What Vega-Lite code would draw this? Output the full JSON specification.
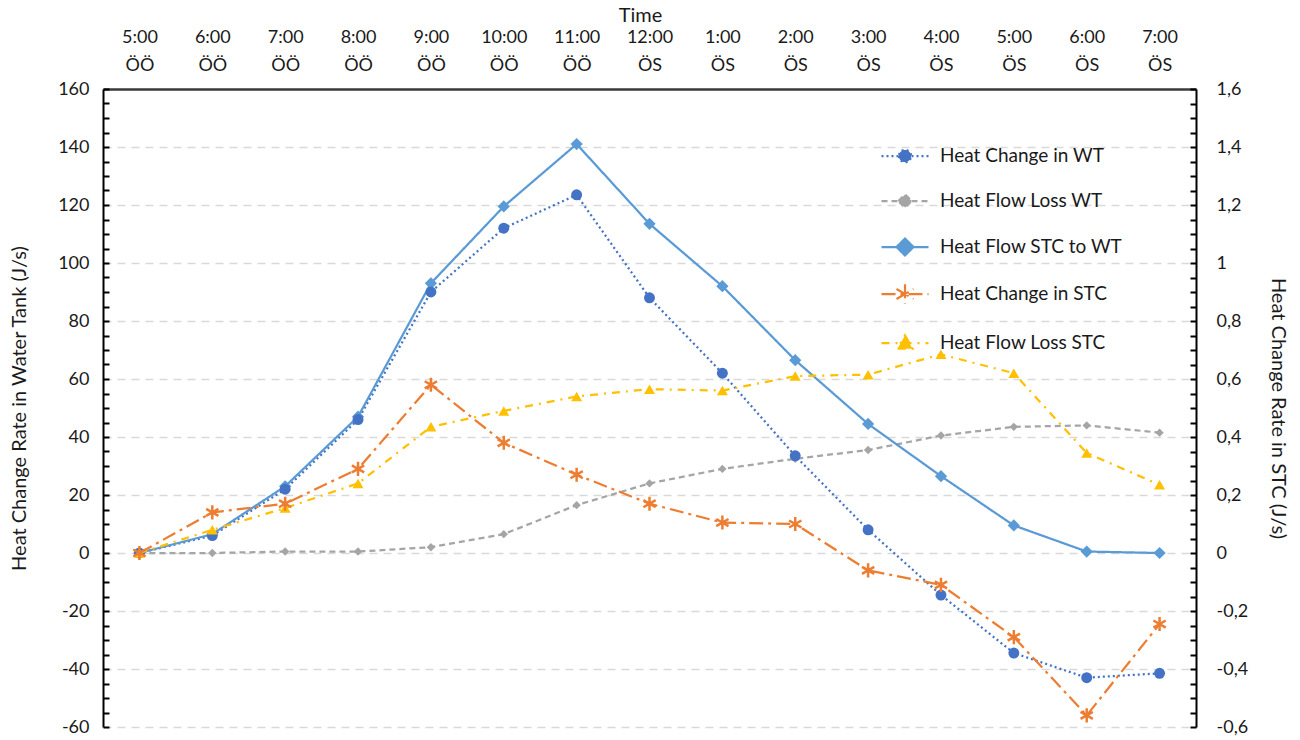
{
  "$schema": "https://vega.github.io/schema/vega-lite/v6.json",
  "width": 1093,
  "height": 638,
  "autosize": "none",
  "padding": {"left": 103, "top": 89, "right": 104, "bottom": 13},
  "background": "white",
  "config": {
    "font": "Lato",
    "view": {"stroke": null},
    "axis": {"labelFont": "Lato", "titleFont": "Lato", "titleFontWeight": "normal", "labelColor": "#1a1a1a", "titleColor": "#1a1a1a", "labelFontSize": 18, "titleFontSize": 18},
    "legend": {"labelFont": "Lato", "labelFontSize": 19, "labelColor": "#1a1a1a", "labelLimit": 0}
  },
  "datasets": {
    "d": [
      {"t": "5:00 ÖÖ", "s": "Heat Change in WT", "v": 0},
      {"t": "6:00 ÖÖ", "s": "Heat Change in WT", "v": 6},
      {"t": "7:00 ÖÖ", "s": "Heat Change in WT", "v": 22},
      {"t": "8:00 ÖÖ", "s": "Heat Change in WT", "v": 46},
      {"t": "9:00 ÖÖ", "s": "Heat Change in WT", "v": 90},
      {"t": "10:00 ÖÖ", "s": "Heat Change in WT", "v": 112},
      {"t": "11:00 ÖÖ", "s": "Heat Change in WT", "v": 123.5},
      {"t": "12:00 ÖS", "s": "Heat Change in WT", "v": 88},
      {"t": "1:00 ÖS", "s": "Heat Change in WT", "v": 62},
      {"t": "2:00 ÖS", "s": "Heat Change in WT", "v": 33.5},
      {"t": "3:00 ÖS", "s": "Heat Change in WT", "v": 8},
      {"t": "4:00 ÖS", "s": "Heat Change in WT", "v": -14.5},
      {"t": "5:00 ÖS", "s": "Heat Change in WT", "v": -34.5},
      {"t": "6:00 ÖS", "s": "Heat Change in WT", "v": -43},
      {"t": "7:00 ÖS", "s": "Heat Change in WT", "v": -41.5},
      {"t": "5:00 ÖÖ", "s": "Heat Flow Loss WT", "v": 0},
      {"t": "6:00 ÖÖ", "s": "Heat Flow Loss WT", "v": 0},
      {"t": "7:00 ÖÖ", "s": "Heat Flow Loss WT", "v": 0.5},
      {"t": "8:00 ÖÖ", "s": "Heat Flow Loss WT", "v": 0.5},
      {"t": "9:00 ÖÖ", "s": "Heat Flow Loss WT", "v": 2},
      {"t": "10:00 ÖÖ", "s": "Heat Flow Loss WT", "v": 6.5},
      {"t": "11:00 ÖÖ", "s": "Heat Flow Loss WT", "v": 16.5},
      {"t": "12:00 ÖS", "s": "Heat Flow Loss WT", "v": 24},
      {"t": "1:00 ÖS", "s": "Heat Flow Loss WT", "v": 29},
      {"t": "2:00 ÖS", "s": "Heat Flow Loss WT", "v": 32.5},
      {"t": "3:00 ÖS", "s": "Heat Flow Loss WT", "v": 35.5},
      {"t": "4:00 ÖS", "s": "Heat Flow Loss WT", "v": 40.5},
      {"t": "5:00 ÖS", "s": "Heat Flow Loss WT", "v": 43.5},
      {"t": "6:00 ÖS", "s": "Heat Flow Loss WT", "v": 44},
      {"t": "7:00 ÖS", "s": "Heat Flow Loss WT", "v": 41.5},
      {"t": "5:00 ÖÖ", "s": "Heat Flow STC to WT", "v": 0},
      {"t": "6:00 ÖÖ", "s": "Heat Flow STC to WT", "v": 6.5},
      {"t": "7:00 ÖÖ", "s": "Heat Flow STC to WT", "v": 23},
      {"t": "8:00 ÖÖ", "s": "Heat Flow STC to WT", "v": 47},
      {"t": "9:00 ÖÖ", "s": "Heat Flow STC to WT", "v": 93},
      {"t": "10:00 ÖÖ", "s": "Heat Flow STC to WT", "v": 119.5},
      {"t": "11:00 ÖÖ", "s": "Heat Flow STC to WT", "v": 141},
      {"t": "12:00 ÖS", "s": "Heat Flow STC to WT", "v": 113.5},
      {"t": "1:00 ÖS", "s": "Heat Flow STC to WT", "v": 92},
      {"t": "2:00 ÖS", "s": "Heat Flow STC to WT", "v": 66.5},
      {"t": "3:00 ÖS", "s": "Heat Flow STC to WT", "v": 44.5},
      {"t": "4:00 ÖS", "s": "Heat Flow STC to WT", "v": 26.5},
      {"t": "5:00 ÖS", "s": "Heat Flow STC to WT", "v": 9.5},
      {"t": "6:00 ÖS", "s": "Heat Flow STC to WT", "v": 0.5},
      {"t": "7:00 ÖS", "s": "Heat Flow STC to WT", "v": 0},
      {"t": "5:00 ÖÖ", "s": "Heat Change in STC", "v": 0},
      {"t": "6:00 ÖÖ", "s": "Heat Change in STC", "v": 0.14},
      {"t": "7:00 ÖÖ", "s": "Heat Change in STC", "v": 0.17},
      {"t": "8:00 ÖÖ", "s": "Heat Change in STC", "v": 0.29},
      {"t": "9:00 ÖÖ", "s": "Heat Change in STC", "v": 0.58},
      {"t": "10:00 ÖÖ", "s": "Heat Change in STC", "v": 0.38},
      {"t": "11:00 ÖÖ", "s": "Heat Change in STC", "v": 0.27},
      {"t": "12:00 ÖS", "s": "Heat Change in STC", "v": 0.17},
      {"t": "1:00 ÖS", "s": "Heat Change in STC", "v": 0.105},
      {"t": "2:00 ÖS", "s": "Heat Change in STC", "v": 0.1},
      {"t": "3:00 ÖS", "s": "Heat Change in STC", "v": -0.06},
      {"t": "4:00 ÖS", "s": "Heat Change in STC", "v": -0.11},
      {"t": "5:00 ÖS", "s": "Heat Change in STC", "v": -0.29},
      {"t": "6:00 ÖS", "s": "Heat Change in STC", "v": -0.56},
      {"t": "7:00 ÖS", "s": "Heat Change in STC", "v": -0.245},
      {"t": "5:00 ÖÖ", "s": "Heat Flow Loss STC", "v": 0},
      {"t": "6:00 ÖÖ", "s": "Heat Flow Loss STC", "v": 0.08},
      {"t": "7:00 ÖÖ", "s": "Heat Flow Loss STC", "v": 0.155},
      {"t": "8:00 ÖÖ", "s": "Heat Flow Loss STC", "v": 0.24},
      {"t": "9:00 ÖÖ", "s": "Heat Flow Loss STC", "v": 0.435},
      {"t": "10:00 ÖÖ", "s": "Heat Flow Loss STC", "v": 0.49},
      {"t": "11:00 ÖÖ", "s": "Heat Flow Loss STC", "v": 0.54},
      {"t": "12:00 ÖS", "s": "Heat Flow Loss STC", "v": 0.565},
      {"t": "1:00 ÖS", "s": "Heat Flow Loss STC", "v": 0.56},
      {"t": "2:00 ÖS", "s": "Heat Flow Loss STC", "v": 0.61},
      {"t": "3:00 ÖS", "s": "Heat Flow Loss STC", "v": 0.615},
      {"t": "4:00 ÖS", "s": "Heat Flow Loss STC", "v": 0.685},
      {"t": "5:00 ÖS", "s": "Heat Flow Loss STC", "v": 0.62},
      {"t": "6:00 ÖS", "s": "Heat Flow Loss STC", "v": 0.345},
      {"t": "7:00 ÖS", "s": "Heat Flow Loss STC", "v": 0.235}
    ]
  },
  "data": {"name": "d"},
  "encoding": {
    "x": {
      "field": "t", "type": "ordinal",
      "scale": {"type": "point", "padding": 0.5, "domain": ["5:00 ÖÖ","6:00 ÖÖ","7:00 ÖÖ","8:00 ÖÖ","9:00 ÖÖ","10:00 ÖÖ","11:00 ÖÖ","12:00 ÖS","1:00 ÖS","2:00 ÖS","3:00 ÖS","4:00 ÖS","5:00 ÖS","6:00 ÖS","7:00 ÖS"]},
      "axis": {"orient": "top", "title": "Time", "titleFontSize": 20, "titlePadding": 3, "titleX": 537, "labelAngle": 0, "labelExpr": "split(datum.label, ' ')", "labelLineHeight": 28, "labelPadding": 43, "ticks": false, "grid": false, "domainColor": "#3a3a3a", "domainWidth": 2.5}
    }
  },
  "layer": [
    {
      "transform": [{"filter": {"field": "s", "oneOf": ["Heat Change in WT", "Heat Flow Loss WT", "Heat Flow STC to WT"]}}],
      "encoding": {
        "y": {
          "field": "v", "type": "quantitative",
          "scale": {"domain": [-60, 160], "nice": false, "zero": false},
          "axis": {
            "orient": "left", "title": "Heat Change Rate in Water Tank (J/s)", "titlePadding": 28, "titleFontSize": 20,
            "values": [-60,-55,-50,-45,-40,-35,-30,-25,-20,-15,-10,-5,0,5,10,15,20,25,30,35,40,45,50,55,60,65,70,75,80,85,90,95,100,105,110,115,120,125,130,135,140,145,150,155,160],
            "labelExpr": "datum.value % 20 === 0 ? '' + datum.value : ''",
            "grid": true, "gridColor": "#D9D9D9", "gridDash": [8, 6], "gridWidth": 1.5,
            "gridOpacity": {"condition": {"test": "datum.value % 20 === 0 && datum.value < 160", "value": 1}, "value": 0},
            "domainColor": "#000", "domainWidth": 2, "tickColor": "#000", "tickWidth": 2, "tickSize": -6, "labelPadding": 20
          }
        }
      },
      "layer": [
        {
          "mark": {"type": "line", "strokeWidth": 2.25},
          "encoding": {
            "color": {"field": "s", "type": "nominal", "scale": {"domain": ["Heat Change in WT", "Heat Flow Loss WT", "Heat Flow STC to WT", "Heat Change in STC", "Heat Flow Loss STC"], "range": ["#4472C4", "#A5A5A5", "#5B9BD5", "#ED7D31", "#FFC000"]},
              "legend": {"title": null, "orient": "none", "legendX": 777, "legendY": 42, "symbolType": "stroke", "symbolSize": 2209, "symbolStrokeWidth": 2.25, "rowPadding": 9, "labelOffset": 10,
                "encode": {"symbols": {"update": {
                  "shape": {"signal": "datum.value === 'Heat Change in WT' ? 'M-1,0H1M-0.26,0A0.26,0.26 0 1,0 0.26,0A0.26,0.26 0 1,0 -0.26,0Z' : datum.value === 'Heat Flow Loss WT' ? 'M-1,0H1M-0.28,0L0,-0.28L0.28,0L0,0.28Z' : datum.value === 'Heat Flow STC to WT' ? 'M-1,0H1M-0.36,0L0,-0.36L0.36,0L0,0.36Z' : datum.value === 'Heat Change in STC' ? 'M-1,0H1M0,-0.42L0,0.42M-0.36,-0.21L0.36,0.21M-0.36,0.21L0.36,-0.21' : 'M-1,0H1M0,-0.32L0.32,0.24L-0.32,0.24Z'"},
                  "fill": {"signal": "scale('color', datum.value)"}
                }}}}},
            "strokeDash": {"field": "s", "type": "nominal", "scale": {"domain": ["Heat Change in WT", "Heat Flow Loss WT", "Heat Flow STC to WT", "Heat Change in STC", "Heat Flow Loss STC"], "range": [[2, 3], [6, 4], [1, 0], [14, 5, 3, 5], [8, 6, 2, 6]]}}
          }
        },
        {
          "transform": [{"filter": "datum.s === 'Heat Flow Loss WT'"}],
          "mark": {"type": "point", "shape": "diamond", "filled": true, "size": 70, "color": "#A5A5A5", "opacity": 1}
        },
        {
          "transform": [{"filter": "datum.s === 'Heat Flow STC to WT'"}],
          "mark": {"type": "point", "shape": "diamond", "filled": true, "size": 150, "color": "#5B9BD5", "opacity": 1}
        },
        {
          "transform": [{"filter": "datum.s === 'Heat Change in WT'"}],
          "mark": {"type": "point", "shape": "circle", "filled": true, "size": 120, "color": "#4472C4", "opacity": 1}
        }
      ]
    },
    {
      "transform": [{"filter": {"field": "s", "oneOf": ["Heat Change in STC", "Heat Flow Loss STC"]}}],
      "encoding": {
        "y": {
          "field": "v", "type": "quantitative",
          "scale": {"domain": [-0.6, 1.6], "nice": false, "zero": false},
          "axis": {
            "orient": "right", "title": "Heat Change Rate in STC (J/s)", "titlePadding": 20, "titleFontSize": 20,
            "values": [-0.6,-0.55,-0.5,-0.45,-0.4,-0.35,-0.3,-0.25,-0.2,-0.15,-0.1,-0.05,0,0.05,0.1,0.15,0.2,0.25,0.3,0.35,0.4,0.45,0.5,0.55,0.6,0.65,0.7,0.75,0.8,0.85,0.9,0.95,1,1.05,1.1,1.15,1.2,1.25,1.3,1.35,1.4,1.45,1.5,1.55,1.6],
            "labelExpr": "round(datum.value * 100) % 20 === 0 ? replace('' + datum.value, '.', ',') : ''",
            "grid": false,
            "domainColor": "#000", "domainWidth": 2, "tickColor": "#000", "tickWidth": 2, "tickSize": -6, "labelPadding": 26
          }
        }
      },
      "layer": [
        {
          "mark": {"type": "line", "strokeWidth": 2.25},
          "encoding": {
            "color": {"field": "s", "type": "nominal"},
            "strokeDash": {"field": "s", "type": "nominal"}
          }
        },
        {
          "transform": [{"filter": "datum.s === 'Heat Flow Loss STC'"}],
          "mark": {"type": "point", "shape": "triangle-up", "filled": true, "size": 120, "color": "#FFC000", "opacity": 1}
        },
        {
          "transform": [{"filter": "datum.s === 'Heat Change in STC'"}],
          "mark": {"type": "point", "shape": "M0,-1L0,1M-0.87,-0.5L0.87,0.5M-0.87,0.5L0.87,-0.5", "filled": false, "size": 200, "color": "#ED7D31", "strokeWidth": 2.5, "opacity": 1}
        }
      ]
    }
  ],
  "resolve": {"scale": {"y": "independent"}}
}
